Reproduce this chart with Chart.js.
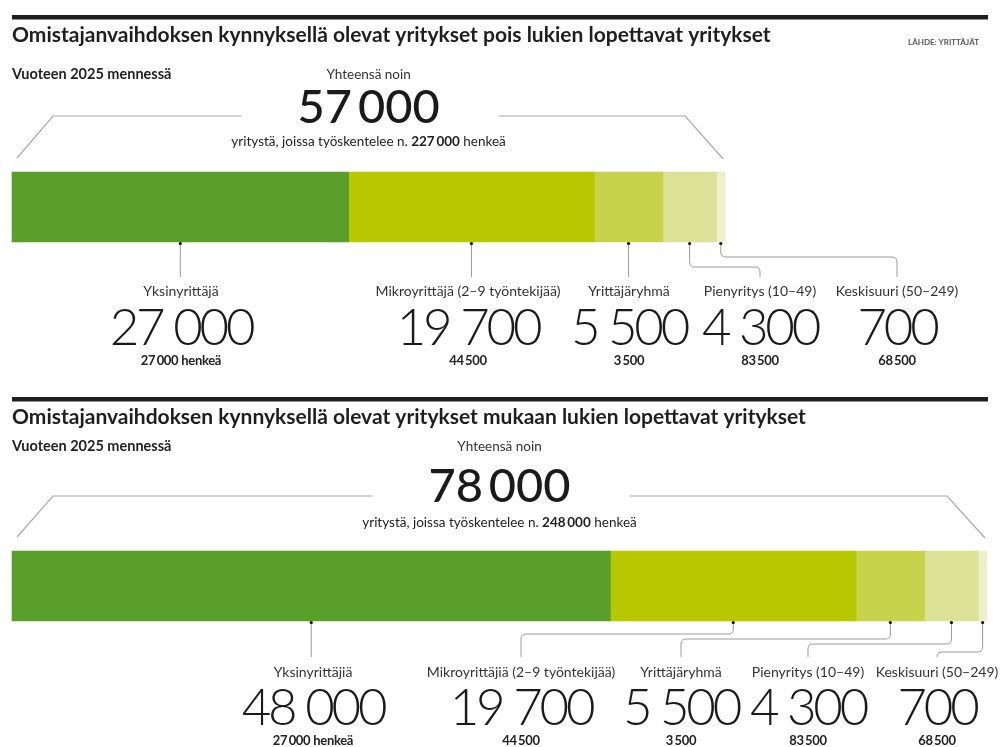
<!DOCTYPE html>
<html lang="fi">
<head>
    <meta charset="UTF-8">
    <title>Omistajanvaihdoksen kynnyksellä olevat yritykset</title>
    <script src="https://cdn.jsdelivr.net/npm/chart.js"></script>
    <style>
        body { margin: 0; background: #fff; }
        canvas { display: block; }
    </style>
</head>
<body>
    <canvas id="chart" width="1000" height="747"></canvas>
    <script>
        // Data
        const rowTitles = [
            "Omistajanvaihdoksen kynnyksellä olevat yritykset pois lukien lopettavat yritykset",
            "Omistajanvaihdoksen kynnyksellä olevat yritykset mukaan lukien lopettavat yritykset"
        ];
        const segmentsTop = ["Yksinyrittäjä", "Mikroyrittäjä (2–9 työntekijää)", "Yrittäjäryhmä", "Pienyritys (10–49)", "Keskisuuri (50–249)"];
        const segmentsBottom = ["Yksinyrittäjiä", "Mikroyrittäjiä (2–9 työntekijää)", "Yrittäjäryhmä", "Pienyritys (10–49)", "Keskisuuri (50–249)"];
        const excludingClosing = [27000, 19700, 5500, 4300, 700];
        const includingClosing = [48000, 19700, 5500, 4300, 700];
        const employees = [27000, 44500, 3500, 83500, 68500];
        const totals = [57000, 78000];
        const totalEmployees = [227000, 248000];
        const colors = ["#5b9f2b", "#b7c800", "#c8d24b", "#dbe196", "#eef0cc"];

        // thousands separator
        const fmt = (n, sep = "\u2009") => String(n).replace(/\B(?=(\d{3})+(?!\d))/g, sep);
        const FONT = "Lato, 'Open Sans', sans-serif";

        // layout of the text around each bar
        const layout = [
            { rule: 15, title: 42, sub: 79, bracket: 116, big: 123, people: 146,
              label: 296, num: 345, subNum: 365, lineEnd: 277,
              labelX: [181, 468, 629, 760, 897], elbow: [null, null, null, 267, 257] },
            { rule: 397, title: 424, sub: 451, bracket: 496, big: 502, people: 527,
              label: 677, num: 725, subNum: 745, lineEnd: 657,
              labelX: [313, 521, 681, 808, 937], elbow: [null, 634, 639, 644, 652] }
        ];

        function connector(ctx, x0, y0, x1, yElbow, y1) {
            ctx.beginPath();
            ctx.moveTo(x0, y0);
            if (yElbow === null || Math.abs(x1 - x0) < 2) {
                ctx.lineTo(x0, y1);
            } else {
                const r = 5, dir = x1 > x0 ? 1 : -1;
                ctx.lineTo(x0, yElbow - r);
                ctx.quadraticCurveTo(x0, yElbow, x0 + dir * r, yElbow);
                ctx.lineTo(x1 - dir * r, yElbow);
                ctx.quadraticCurveTo(x1, yElbow, x1, yElbow + r);
                ctx.lineTo(x1, y1);
            }
            ctx.stroke();
        }

        const annotations = {
            id: "annotations",
            afterDraw(chart) {
                const ctx = chart.ctx;
                const metas = chart.data.datasets.map((d, i) => chart.getDatasetMeta(i));
                ctx.save();
                layout.forEach((L, r) => {
                    const first = metas[0].data[r];
                    const last = metas[metas.length - 1].data[r];
                    const start = first.base, end = last.x;
                    const barTop = first.y - first.height / 2;
                    const barBottom = first.y + first.height / 2;
                    const mid = (start + end) / 2;

                    // rule + title
                    ctx.letterSpacing = "0px";
                    ctx.fillStyle = "#1e1e1e";
                    ctx.fillRect(12, L.rule, 976, 4.5);
                    ctx.textBaseline = "alphabetic";
                    ctx.textAlign = "left";
                    ctx.font = "bold 21px " + FONT;
                    ctx.fillText(rowTitles[r], 12, L.title);
                    if (r === 0) {
                        ctx.textAlign = "right";
                        ctx.font = "bold 8px " + FONT;
                        ctx.fillStyle = "#555";
                        ctx.fillText("LÄHDE: YRITTÄJÄT", 979, 45);
                    }
                    ctx.textAlign = "left";
                    ctx.fillStyle = "#222";
                    ctx.font = "bold 14.5px " + FONT;
                    ctx.fillText("Vuoteen 2025 mennessä", 12, L.sub);

                    // total block
                    ctx.textAlign = "center";
                    ctx.font = "13.5px " + FONT;
                    ctx.fillStyle = "#333";
                    ctx.fillText("Yhteensä noin", mid, L.sub);
                    ctx.font = "500 47px " + FONT;
                    ctx.fillStyle = "#1a1a1a";
                    ctx.fillText(fmt(totals[r]), mid, L.big);

                    const parts = [["yritystä, joissa työskentelee n. ", "13.5px "], [fmt(totalEmployees[r]), "bold 13.5px "], [" henkeä", "13.5px "]];
                    let w = 0;
                    parts.forEach(p => { ctx.font = p[1] + FONT; w += ctx.measureText(p[0]).width; });
                    let x = mid - w / 2;
                    ctx.textAlign = "left";
                    ctx.fillStyle = "#222";
                    parts.forEach(p => { ctx.font = p[1] + FONT; ctx.fillText(p[0], x, L.people); x += ctx.measureText(p[0]).width; });

                    // bracket
                    ctx.strokeStyle = "#a8a8a8";
                    ctx.lineWidth = 1.2;
                    ctx.beginPath();
                    ctx.moveTo(start + 5, barTop - 14);
                    ctx.lineTo(start + 41, L.bracket);
                    ctx.lineTo(mid - 127, L.bracket);
                    ctx.moveTo(mid + 130, L.bracket);
                    ctx.lineTo(end - 40, L.bracket);
                    ctx.lineTo(end - 2, barTop - 13);
                    ctx.stroke();

                    // segment labels
                    const names = r === 0 ? segmentsTop : segmentsBottom;
                    const values = r === 0 ? excludingClosing : includingClosing;
                    metas.forEach((m, i) => {
                        const bar = m.data[r];
                        const cx = (bar.base + bar.x) / 2;
                        const lx = L.labelX[i];
                        ctx.strokeStyle = "#9a9a9a";
                        ctx.lineWidth = 1;
                        connector(ctx, cx, barBottom + 1, lx, L.elbow[i], L.lineEnd);
                        ctx.fillStyle = "#111";
                        ctx.beginPath();
                        ctx.arc(cx, barBottom + 1.5, 1.6, 0, Math.PI * 2);
                        ctx.fill();

                        ctx.textAlign = "center";
                        ctx.letterSpacing = "0px";
                        ctx.fillStyle = "#333";
                        ctx.font = "14px " + FONT;
                        ctx.fillText(names[i], lx, L.label);
                        ctx.fillStyle = "#1a1a1a";
                        ctx.font = "300 51px " + FONT;
                        ctx.letterSpacing = "-3.2px";
                        ctx.fillText(fmt(values[i], " "), lx, L.num);
                        ctx.letterSpacing = "-0.3px";
                        ctx.font = "bold 13px " + FONT;
                        ctx.fillStyle = "#222";
                        ctx.fillText(fmt(employees[i]) + (i === 0 ? " henkeä" : ""), lx, L.subNum);
                    });
                });
                ctx.restore();
            }
        };

        const datasets = segmentsTop.map((name, i) => ({
            label: name,
            data: [excludingClosing[i], includingClosing[i]],
            backgroundColor: colors[i],
            borderWidth: 0,
            barThickness: 70,
            clip: false
        }));

        new Chart(document.getElementById("chart").getContext("2d"), {
            type: "bar",
            data: { labels: ["pois lukien", "mukaan lukien"], datasets },
            options: {
                indexAxis: "y",
                responsive: false,
                animation: false,
                devicePixelRatio: 1,
                layout: { padding: { left: 12, right: 13, top: 207, bottom: 161 } },
                scales: {
                    x: { stacked: true, min: 0, max: includingClosing.reduce((a, b) => a + b, 0), display: false },
                    y: { stacked: true, offset: false, display: false }
                },
                plugins: { legend: { display: false }, tooltip: { enabled: false } }
            },
            plugins: [annotations]
        });
    </script>
</body>
</html>
